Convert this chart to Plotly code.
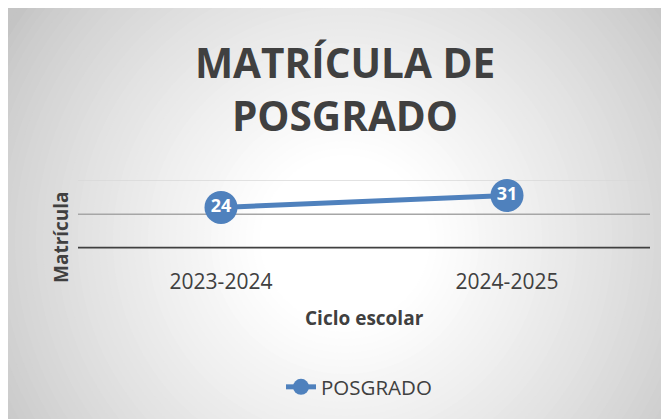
import plotly.graph_objects as go

ciclos = ["2023-2024", "2024-2025"]
posgrado = [24, 31]
y_grid = [0, 20, 40]
serie = "POSGRADO"
titulo = "MATRÍCULA DE<br>POSGRADO"

W, H = 669, 419
OFF = 8  # page margin of the browser body
FONT = "Open Sans"
BLUE = "#4f81bd"
DARK = "#404040"


def px(v):
    return (v - OFF) / W


def py(v):
    return 1 - (v - OFF) / H


xpos = list(range(len(ciclos)))

fig = go.Figure()
fig.add_trace(go.Scatter(
    x=xpos, y=posgrado, name=serie, mode="lines+markers",
    line=dict(color=BLUE, width=5),
    marker=dict(size=33, color=BLUE, line=dict(width=0)),
    cliponaxis=False,
))
fig.add_trace(go.Scatter(
    x=xpos, y=posgrado, mode="text", text=[str(v) for v in posgrado],
    textposition="middle center", showlegend=False, cliponaxis=False,
    textfont=dict(family=FONT, size=18, color="white", weight="bold"),
))

# radial gradient background
shapes = [dict(type="rect", xref="paper", yref="paper", x0=0, x1=1, y0=0, y1=1,
               fillcolor="rgb(196,196,196)", line=dict(width=0), layer="below")]
cx, cy = 337, 232
r_max, r_min = 400, 85
n = 45
for i in range(n + 1):
    r = r_max - (r_max - r_min) * i / n
    t = (i / n) ** 0.8
    g = int(round(196 + (255 - 196) * t))
    col = f"rgb({g},{g},{g})"
    shapes.append(dict(type="circle", xref="paper", yref="paper",
                       x0=(cx - r) / W, x1=(cx + r) / W,
                       y0=1 - (cy + r) / H, y1=1 - (cy - r) / H,
                       fillcolor=col, line=dict(width=0), layer="below"))

# gridlines
grid_style = {0: ("#404040", 3.5), 20: ("#a6a6a6", 1.5), 40: ("#d9d9d9", 1.5)}
for v in y_grid:
    c, w = grid_style[v]
    shapes.append(dict(type="line", xref="x domain", yref="y", x0=0, x1=1, y0=v, y1=v,
                       line=dict(color=c, width=w), layer="below"))

fig.update_layout(
    width=W, height=H,
    margin=dict(l=0, r=0, t=0, b=0),
    paper_bgcolor="white", plot_bgcolor="rgba(0,0,0,0)",
    shapes=shapes,
    title=dict(text=titulo, x=px(345), xanchor="center", y=1 - 70 / H, yanchor="middle",
               font=dict(family=FONT, size=40.5, color=DARK, weight="bold")),
    xaxis=dict(domain=[px(78), px(650)], range=[-0.5, 1.5], tickvals=xpos, ticktext=ciclos,
               showgrid=False, zeroline=False, showline=False, ticks="",
               ticklabelstandoff=18,
               tickfont=dict(family=FONT, size=21, color=DARK)),
    yaxis=dict(domain=[py(248.5), py(180)], range=[0, 40], showgrid=False,
               zeroline=False, showline=False, showticklabels=False, ticks=""),
    showlegend=True,
    legend=dict(orientation="h", x=px(359), xanchor="center", y=py(387), yanchor="middle",
                bgcolor="rgba(0,0,0,0)", font=dict(family=FONT, size=20.5, color=DARK),
                itemsizing="trace"),
    annotations=[
        dict(text="Ciclo escolar", xref="paper", yref="paper", x=px(364), y=py(318),
             xanchor="center", yanchor="middle", showarrow=False,
             font=dict(family=FONT, size=19, color=DARK, weight="bold")),
        dict(text="Matrícula", xref="paper", yref="paper", x=px(61), y=py(237),
             xanchor="center", yanchor="middle", showarrow=False, textangle=-90,
             font=dict(family=FONT, size=19, color=DARK, weight="bold")),
    ],
)

fig.write_html("out.html")
